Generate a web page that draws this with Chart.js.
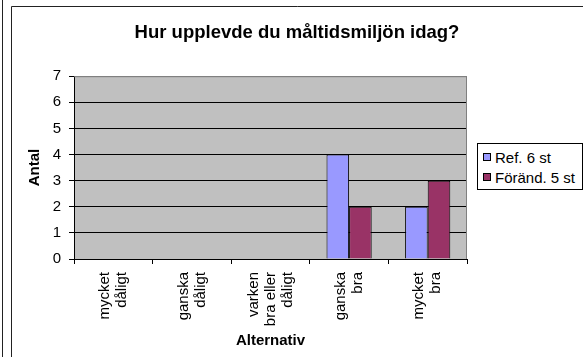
<!DOCTYPE html>
<html>
<head>
<meta charset="utf-8">
<script src="https://cdn.jsdelivr.net/npm/chart.js@4/dist/chart.umd.min.js"></script>
<style>
  html, body { margin: 0; padding: 0; background: #fff; }
  #wrap { position: relative; width: 583px; height: 357px; }
  #legend {
    position: absolute; left: 477px; top: 143px; width: 104px;
    border: 1px solid #000; background: #fff;
    font: 15px "Liberation Sans", Arial, sans-serif; color: #000;
    padding: 3px 0 2px 0;
  }
  #legend div { display: flex; align-items: center; height: 20px; padding-left: 5px; white-space: nowrap; }
  #legend span.sw { width: 6px; height: 6px; border: 1px solid #000; margin-right: 4px; }
</style>
</head>
<body>
<div id="wrap">
  <canvas id="chart" width="583" height="357"></canvas>
  <div id="legend"></div>
</div>
<script>
// ==================== DATA ====================
const categories = [
  ['mycket', 'dåligt'],
  ['ganska', 'dåligt'],
  ['varken', 'bra eller', 'dåligt'],
  ['ganska', 'bra'],
  ['mycket', 'bra'],
];
const refValues = [0, 0, 0, 4, 2];
const forandValues = [0, 0, 0, 2, 3];
const seriesNames = ['Ref. 6 st', 'Föränd. 5 st'];
const seriesColors = ['#9999FF', '#993366'];
const yTicks = [0, 1, 2, 3, 4, 5, 6, 7];

const FONT = '"Liberation Sans", Arial, sans-serif';
const TICK_LINE = 17;

// frame lines + grey plot background
const framePlugin = {
  id: 'frame',
  beforeDraw(chart) {
    const { ctx, chartArea: a } = chart;
    ctx.save();
    ctx.fillStyle = '#fff';
    ctx.fillRect(0, 0, chart.width, chart.height);
    ctx.strokeStyle = '#222';
    ctx.lineWidth = 1;
    ctx.beginPath();
    ctx.moveTo(2.5, 0); ctx.lineTo(2.5, chart.height);
    ctx.moveTo(11.5, 6.5); ctx.lineTo(11.5, chart.height);
    ctx.moveTo(11.5, 6.5); ctx.lineTo(chart.width, 6.5);
    ctx.stroke();
    ctx.fillStyle = '#C0C0C0';
    ctx.fillRect(a.left, a.top, a.right - a.left, a.bottom - a.top);
    ctx.restore();

    // center multi-line rotated x labels on their tick
    const items = chart.scales.x.getLabelItems();
    if (!items._centered) {
      items.forEach((it) => {
        const n = Array.isArray(it.label) ? it.label.length : 1;
        it.options.translation[0] -= ((n - 1) / 2) * TICK_LINE;
      });
      items._centered = true;
    }
  },
  beforeDatasetsDraw(chart) {
    const { ctx, chartArea: a } = chart;
    ctx.save();
    ctx.strokeStyle = '#808080';
    ctx.lineWidth = 1;
    ctx.beginPath();
    ctx.moveTo(a.left, a.top + 0.5);
    ctx.lineTo(a.right - 0.5, a.top + 0.5);
    ctx.lineTo(a.right - 0.5, a.bottom);
    ctx.stroke();
    ctx.restore();
  },
};

const chart = new Chart(document.getElementById('chart'), {
  type: 'bar',
  data: {
    labels: categories,
    datasets: [
      {
        label: seriesNames[0],
        data: refValues,
        backgroundColor: seriesColors[0],
        borderColor: '#000',
        borderWidth: 1,
        categoryPercentage: 0.575,
        barPercentage: 1,
      },
      {
        label: seriesNames[1],
        data: forandValues,
        backgroundColor: seriesColors[1],
        borderColor: '#000',
        borderWidth: 1,
        categoryPercentage: 0.575,
        barPercentage: 1,
      },
    ],
  },
  options: {
    responsive: false,
    animation: false,
    layout: { padding: { left: 12, right: 1, top: 0, bottom: 0 } },
    plugins: {
      legend: { display: false },
      tooltip: { enabled: false },
      title: {
        display: true,
        text: 'Hur upplevde du måltidsmiljön idag?',
        color: '#000',
        font: { family: FONT, size: 18.5, weight: 'bold', lineHeight: 1.2 },
        padding: { top: 22, bottom: 32 },
      },
    },
    scales: {
      x: {
        grid: {
          drawOnChartArea: false,
          drawTicks: true,
          tickLength: 5,
          color: '#000',
          offset: true,
        },
        border: { color: '#000', width: 1 },
        ticks: {
          color: '#000',
          minRotation: 90,
          maxRotation: 90,
          padding: 8,
          font: { family: FONT, size: 15, lineHeight: TICK_LINE / 15 },
        },
        title: {
          display: true,
          text: 'Alternativ',
          color: '#000',
          font: { family: FONT, size: 15, weight: 'bold', lineHeight: 1.2 },
          padding: { top: 0, bottom: 7 },
        },
        afterFit(scale) { scale.height = 98; },
      },
      y: {
        min: yTicks[0],
        max: yTicks[yTicks.length - 1],
        afterBuildTicks(scale) { scale.ticks = yTicks.map((v) => ({ value: v })); },
        grid: {
          color: (c) => (c.tick && c.tick.value === 7 ? '#808080' : '#000'),
          tickColor: '#000',
          tickLength: 5,
        },
        border: { color: '#000', width: 1 },
        ticks: {
          color: '#000',
          padding: 8,
          font: { family: FONT, size: 15 },
        },
        title: {
          display: true,
          text: 'Antal',
          color: '#000',
          font: { family: FONT, size: 15, weight: 'bold', lineHeight: 1.2 },
          padding: { top: 14, bottom: 0 },
        },
        afterFit(scale) { scale.width = 62; },
      },
      // empty right-hand axis that reserves room for the legend
      side: {
        type: 'linear',
        position: 'right',
        grid: { display: false },
        border: { display: false },
        ticks: { display: false },
        afterFit(scale) { scale.width = 115; },
      },
    },
  },
  plugins: [framePlugin],
});

// legend
document.getElementById('legend').innerHTML = chart.data.datasets
  .map((d) => `<div><span class="sw" style="background:${d.backgroundColor}"></span>${d.label}</div>`)
  .join('');
</script>
</body>
</html>
